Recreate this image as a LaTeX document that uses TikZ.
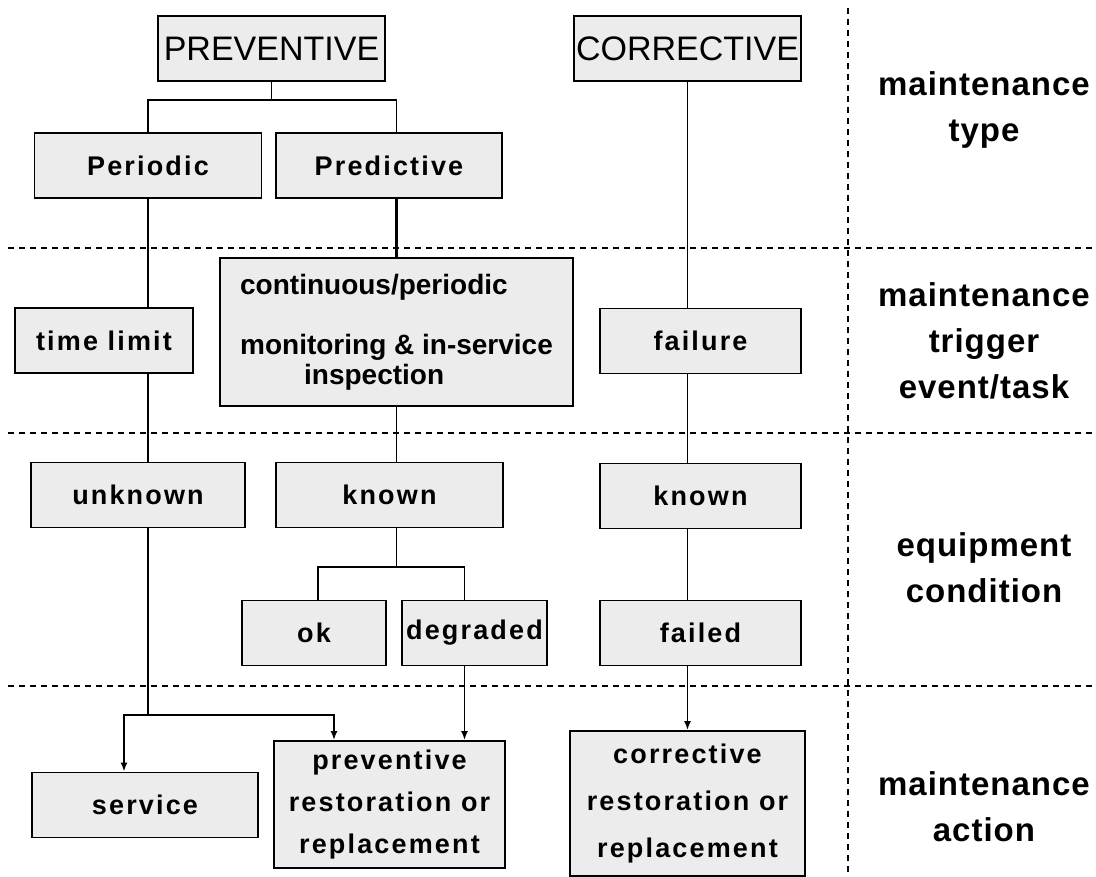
\documentclass[tikz,border=0pt]{standalone}
\usepackage{fontspec}
\setmainfont{Liberation Sans}
\newfontfamily\boxfont[LetterSpace=8]{Liberation Sans}
\newfontfamily\rowfont[LetterSpace=3]{Liberation Sans}
\usetikzlibrary{arrows.meta,calc}
\definecolor{boxfill}{RGB}{236,236,236}
\tikzset{
  flowarrow/.style={-{Latex[length=9pt,width=7pt]}, line width=1.8pt},
  link/.style={line width=1.8pt},
  sepline/.style={line width=1.6pt, dash pattern=on 6pt off 5pt},
  mbox/.style={draw, line width=1.8pt, fill=boxfill, minimum height=65pt, inner sep=0pt, align=center, font=\boxfont\bfseries\fontsize{27}{32}\selectfont},
  typebox/.style={draw, line width=1.8pt, fill=boxfill, minimum height=65pt, inner sep=0pt, align=center, font=\fontsize{34}{40}\selectfont},
  rowlabel/.style={align=center, font=\rowfont\bfseries\fontsize{33}{46}\selectfont}
}

\begin{document}
\begin{tikzpicture}[x=1pt, y=-1pt]
  \useasboundingbox (0,0) rectangle (1096,877);
  % lanes
  \draw[sepline] (8,248) -- (1096,248);
  \draw[sepline] (8,433) -- (1096,433);
  \draw[sepline] (8,686) -- (1096,686);
  \draw[sepline] (848,8) -- (848,877);

  % maintenance type
  \node[typebox, minimum width=227pt] (prev) at (271.5,48.5) {PREVENTIVE};
  \node[typebox, minimum width=227pt] (corr) at (687.5,48.5) {CORRECTIVE};
  \node[mbox, minimum width=227pt] (periodic) at (148,165.5) {Periodic};
  \node[mbox, minimum width=226pt] (predictive) at (389,165.5) {Predictive};

  % trigger
  \node[mbox, minimum width=178pt] (timelimit) at (104,340.5) {time limit};
  \node[mbox, minimum width=353pt, minimum height=148pt, align=left,
        font=\bfseries\fontsize{28}{30}\selectfont] (monitor) at (396.5,332)
        {continuous/periodic\\[30pt]monitoring \& in-service\\\hspace*{64pt}inspection};
  \node[mbox, minimum width=201pt] (failure) at (700.5,341) {failure};

  % condition
  \node[mbox, minimum width=214pt] (unknown) at (138,495) {unknown};
  \node[mbox, minimum width=227pt] (knownA) at (389.5,495) {known};
  \node[mbox, minimum width=201pt] (knownB) at (700.5,496) {known};
  \node[mbox, minimum width=144pt] (ok) at (314,633) {ok};
  \node[mbox, minimum width=145pt] (degraded) at (474.5,633) {degraded};
  \node[mbox, minimum width=201pt] (failed) at (700.5,633) {failed};

  % action
  \node[mbox, minimum width=226pt] (service) at (145,805) {service};
  \node[mbox, minimum width=231pt, minimum height=127pt,
        font=\boxfont\bfseries\fontsize{27}{42}\selectfont] (prevrest) at (389.5,804.5)
        {preventive\\restoration or\\replacement};
  \node[mbox, minimum width=235pt, minimum height=145pt,
        font=\boxfont\bfseries\fontsize{27}{47}\selectfont] (corrrest) at (687.5,803.5)
        {corrective\\restoration or\\replacement};

  % row labels
  \node[rowlabel] (ltype) at (984,110) {maintenance\\type};
  \node[rowlabel] (ltrigger) at (984,341) {maintenance\\trigger\\event/task};
  \node[rowlabel] (lcond) at (984,568) {equipment\\condition};
  \node[rowlabel] (laction) at (984,807) {maintenance\\action};

  % preventive branch
  \coordinate (psplit) at ($(prev.south)+(0,18)$);
  \draw[link] (prev.south) -- (psplit);
  \draw[link] (periodic.north) |- (psplit) -| (predictive.north -| monitor.north);
  \draw[line width=3pt] (predictive.south -| monitor.north) -- (monitor.north);
  \draw[link] (periodic.south) -- (periodic.south |- timelimit.north);
  \draw[link] (periodic.south |- timelimit.south) -- (periodic.south |- unknown.north);
  \coordinate (usplit) at (periodic.south |- 0,715);
  \draw[link] (periodic.south |- unknown.south) -- (usplit);
  \draw[flowarrow] (usplit) -| ([xshift=-21pt]service.north);
  \draw[flowarrow] (usplit) -| ([xshift=-55.5pt]prevrest.north);

  \draw[link] (monitor.south) -- (monitor.south |- knownA.north);
  \coordinate (ksplit) at (monitor.south |- 0,567);
  \draw[link] (monitor.south |- knownA.south) -- (ksplit);
  \draw[link] ([xshift=4pt]ok.north) |- (ksplit) -| ([xshift=-10pt]degraded.north);
  \coordinate (dcol) at ([xshift=-10pt]degraded.south);
  \draw[flowarrow] (dcol) -- (dcol |- prevrest.north);

  % corrective branch
  \draw[link] (corr.south) -- (corr.south |- failure.north);
  \draw[link] (corr.south |- failure.south) -- (corr.south |- knownB.north);
  \draw[link] (corr.south |- knownB.south) -- (corr.south |- failed.north);
  \draw[flowarrow] (corr.south |- failed.south) -- (corr.south |- corrrest.north);
\end{tikzpicture}
\end{document}
